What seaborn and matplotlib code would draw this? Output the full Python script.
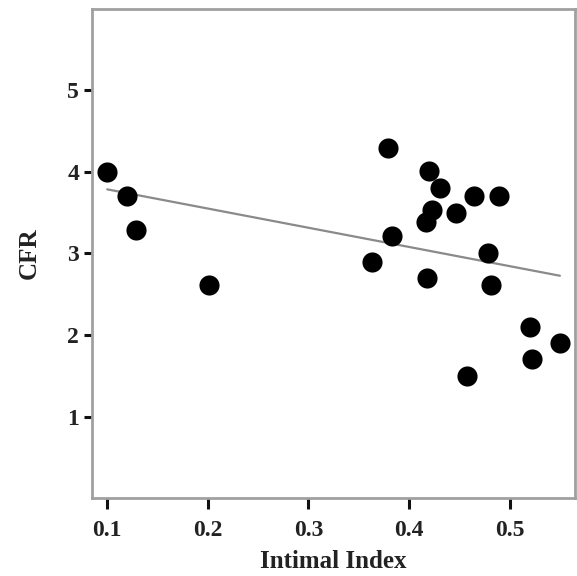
import matplotlib
matplotlib.use("Agg")
import matplotlib.pyplot as plt
import seaborn as sns
import pandas as pd

intimal_index = [0.100, 0.120, 0.129, 0.201, 0.363, 0.379, 0.383, 0.420, 0.431, 0.423,
                 0.417, 0.447, 0.465, 0.489, 0.479, 0.418, 0.482, 0.520, 0.550, 0.522, 0.458]
cfr = [4.00, 3.71, 3.29, 2.61, 2.89, 4.29, 3.21, 4.01, 3.80, 3.53,
       3.39, 3.50, 3.71, 3.71, 3.00, 2.70, 2.61, 2.10, 1.90, 1.71, 1.50]
x_ticks = [0.1, 0.2, 0.3, 0.4, 0.5]
y_ticks = [1, 2, 3, 4, 5]

df = pd.DataFrame({"Intimal Index": intimal_index, "CFR": cfr})

sns.set_theme(style="white")
plt.rcParams['font.family'] = ['Liberation Serif', 'DejaVu Serif']

fig = plt.figure(figsize=(5.77, 5.76), dpi=100)
ax = fig.add_axes([0.159, 0.1354, 0.8375, 0.849])

sns.regplot(data=df, x="Intimal Index", y="CFR", ci=None, ax=ax,
            scatter_kws=dict(s=210, color="black", edgecolor="black", linewidths=0,
                             alpha=1, zorder=3),
            line_kws=dict(color="#8a8a8a", linewidth=1.6, zorder=2))

ax.set_xlim(0.0846, 0.565)
ax.set_ylim(0, 6.0)
ax.set_xticks(x_ticks)
ax.set_xticklabels([f"{t:.1f}" for t in x_ticks])
ax.set_yticks(y_ticks)
ax.set_yticklabels([str(t) for t in y_ticks])

for s in ax.spines.values():
    s.set_color("#a0a0a0")
    s.set_linewidth(2)
    s.set_visible(True)

ax.tick_params(axis="x", which="major", direction="out", length=8, width=2.2,
               color="#111111", labelsize=17, pad=8, bottom=True)
ax.tick_params(axis="y", which="major", direction="out", length=6, width=2.2,
               color="#111111", labelsize=17, pad=3, left=True)
for lab in ax.get_xticklabels() + ax.get_yticklabels():
    lab.set_fontweight("bold")
    lab.set_color("#222222")

ax.set_xlabel("Intimal Index", fontsize=18, fontweight="bold", color="#222222", labelpad=6)
ax.set_ylabel("CFR", fontsize=18, fontweight="bold", color="#222222", labelpad=19)

fig.savefig("out.png", dpi=100, facecolor="white")
